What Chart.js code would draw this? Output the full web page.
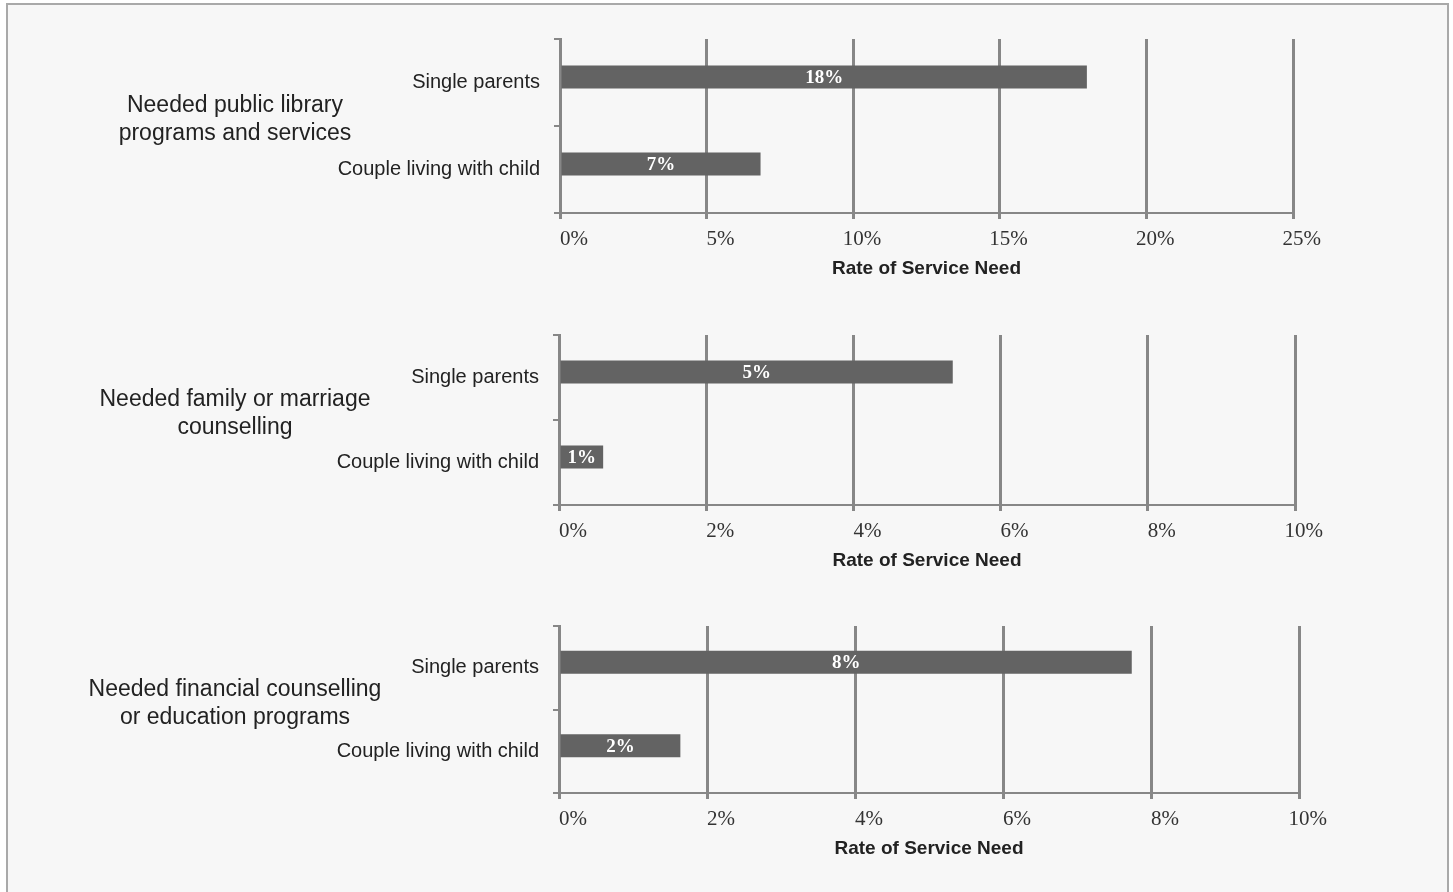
<!DOCTYPE html>
<html>
<head>
<meta charset="utf-8">
<title>Rate of Service Need</title>
<script src="https://cdn.jsdelivr.net/npm/chart.js@4.4.0/dist/chart.umd.min.js"></script>
<style>
  html, body { margin: 0; padding: 0; background: #fff; overflow: hidden; }
  #frame { position: absolute; left: 6px; top: 3px; width: 1439px; height: 900px; border: 2px solid #a9a9a9; background: #f7f7f7; }
  canvas { position: absolute; left: 0; }
  .group { position: absolute; left: 55px; width: 360px; text-align: center; font: 23px "Liberation Sans", Arial, sans-serif; line-height: 28px; color: #222; }
</style>
</head>
<body>
<div id="frame"></div>
<div id="wrap"></div>
<script>
// data
const categories = ['Single parents', 'Couple living with child'];
const groupTitles = [
  ['Needed public library', 'programs and services'],
  ['Needed family or marriage', 'counselling'],
  ['Needed financial counselling', 'or education programs']
];
const libraryValues = [17.97, 6.84];
const counsellingValues = [5.35, 0.6];
const financialValues = [7.74, 1.64];
const axisMax = [25, 10, 10];
const axisStep = [5, 2, 2];
const axisTitle = 'Rate of Service Need';

// where each panel's plot area sits on the page
const panels = [
  { values: libraryValues, top: 39, bottom: 213, left: 560, right: 1293 },
  { values: counsellingValues, top: 335, bottom: 505, left: 559, right: 1295 },
  { values: financialValues, top: 626, bottom: 793, left: 559, right: 1299 }
];

const padTop = 30;
const xAxisHeight = 70;
const gridColor = '#878787';
const barColor = '#636363';

// white % labels in the middle of each bar
const barLabels = {
  id: 'barLabels',
  afterDatasetsDraw(chart) {
    const ctx = chart.ctx;
    const meta = chart.getDatasetMeta(0);
    const data = chart.data.datasets[0].data;
    ctx.save();
    ctx.font = 'bold 19px "Liberation Serif", "Times New Roman", serif';
    ctx.fillStyle = '#ffffff';
    ctx.textAlign = 'center';
    ctx.textBaseline = 'middle';
    meta.data.forEach((bar, i) => {
      ctx.fillText(Math.round(data[i]) + '%', (bar.x + bar.base) / 2, bar.y + 1);
    });
    ctx.restore();
  }
};

const wrap = document.getElementById('wrap');

panels.forEach((p, n) => {
  const canvas = document.createElement('canvas');
  const h = padTop + (p.bottom - p.top) + xAxisHeight;
  canvas.width = 1453;
  canvas.height = h;
  canvas.style.top = (p.top - padTop) + 'px';
  wrap.appendChild(canvas);

  const title = document.createElement('div');
  title.className = 'group';
  const mid = (p.top + p.bottom) / 2;
  title.style.top = (mid - 36) + 'px';
  title.innerHTML = groupTitles[n].join('<br>');
  wrap.appendChild(title);

  // like the original sheet, an empty second series sits in each category,
  // which nudges the real bar a little above the category centre
  const catHeight = (p.bottom - p.top) / categories.length;
  const groupSize = 22;

  new Chart(canvas.getContext('2d'), {
    type: 'bar',
    data: {
      labels: categories,
      datasets: [{
        data: p.values,
        backgroundColor: barColor,
        categoryPercentage: groupSize / catHeight,
        barPercentage: 23 / (groupSize / 2)
      }, {
        data: [],
        backgroundColor: barColor
      }]
    },
    options: {
      indexAxis: 'y',
      responsive: false,
      animation: false,
      devicePixelRatio: 1,
      layout: { padding: { top: padTop, right: 1453 - p.right, bottom: 0, left: 0 } },
      plugins: {
        legend: { display: false },
        tooltip: { enabled: false }
      },
      scales: {
        x: {
          min: 0,
          max: axisMax[n],
          ticks: {
            stepSize: axisStep[n],
            callback: v => v + '%',
            font: { family: '"Liberation Serif", "Times New Roman", serif', size: 21 },
            color: '#333',
            padding: 8,
            align: 'end',
            labelOffset: 28
          },
          grid: { color: gridColor, lineWidth: 3, tickLength: 6 },
          border: { color: gridColor, width: 2 },
          title: {
            display: true,
            text: axisTitle,
            font: { family: '"Liberation Sans", Arial, sans-serif', size: 19, weight: 'bold' },
            color: '#222',
            padding: { top: 0, bottom: 2.5 }
          },
          afterFit: s => { s.height = xAxisHeight; s.paddingLeft = 0; s.paddingRight = 0; }
        },
        y: {
          grid: { offset: true, drawOnChartArea: false, color: gridColor, lineWidth: 2, tickLength: 6 },
          border: { color: gridColor, width: 3 },
          ticks: {
            font: { family: '"Liberation Sans", Arial, sans-serif', size: 20 },
            color: '#222',
            padding: 14
          },
          afterFit: s => { s.width = p.left; s.paddingTop = 0; s.paddingBottom = 0; }
        }
      }
    },
    plugins: [barLabels]
  });
});
</script>
</body>
</html>
